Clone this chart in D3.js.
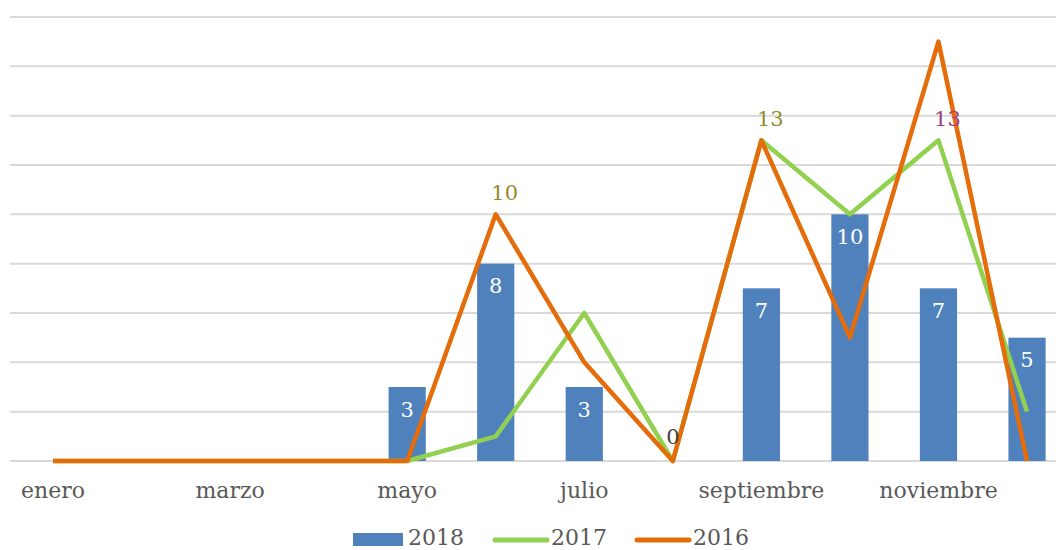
<!DOCTYPE html>
<html>
<head>
<meta charset="utf-8">
<script src="https://cdn.jsdelivr.net/npm/d3@7"></script>
<style>
  body { margin: 0; background: #fff; }
  svg { display: block; font-family: "DejaVu Serif", serif; }
</style>
</head>
<body>
<svg id="chart" width="1056" height="550"></svg>
<script>
// months on the x axis, only every other one gets a label
const months = ['enero', 'febrero', 'marzo', 'abril', 'mayo', 'junio',
  'julio', 'agosto', 'septiembre', 'octubre', 'noviembre', 'diciembre'];
const shownMonths = ['enero', 'marzo', 'mayo', 'julio', 'septiembre', 'noviembre'];

// series values (null = no bar / no label)
const values2018 = [null, null, null, null, 3, 8, 3, 0, 7, 10, 7, 5];
const values2017 = [0, 0, 0, 0, 0, 1, 6, 0, 13, 10, 13, 2];
const values2016 = [0, 0, 0, 0, 0, 10, 4, 0, 13, 5, 17, 0];

// the few line labels the original shows
const lineLabels = [
  {month: 'junio', series: '2016', color: '#948a2c'},
  {month: 'septiembre', series: '2017', color: '#948a2c'},
  {month: 'noviembre', series: '2017', color: '#9b3f7d'}
];
const gridTicks = [0, 2, 4, 6, 8, 10, 12, 14, 16, 18];

const colors = {'2018': '#4f81bd', '2017': '#92d050', '2016': '#e46c0a'};
const lineData = {'2017': values2017, '2016': values2016};

var svg = d3.select('#chart');

var x = d3.scaleBand().domain(months)
  .range([8.7, 1071.3])
  .paddingInner(0.58).paddingOuter(0.29);
var y = d3.scaleLinear().domain([0, 18]).range([461, 17]);
var cx = m => x(m) + x.bandwidth() / 2;

// gridlines
svg.append('g')
  .selectAll('line')
  .data(gridTicks)
  .enter().append('line')
  .attr('x1', 10).attr('x2', 1056)
  .attr('y1', d => y(d)).attr('y2', d => y(d))
  .style('stroke', '#d9d9d9')
  .style('stroke-width', 2);

// x axis
var xAxis = svg.append('g')
  .attr('transform', `translate(0, ${y(0)})`)
  .call(d3.axisBottom(x).tickValues(shownMonths).tickSize(0).tickPadding(21));
xAxis.select('.domain').remove();
xAxis.selectAll('text')
  .style('font-family', '"DejaVu Serif", serif')
  .style('font-size', '22px')
  .attr('fill', '#595959');

// bars 2018
var bars = months.map((m, i) => ({m: m, v: values2018[i]})).filter(d => d.v !== null);
svg.append('g')
  .selectAll('rect')
  .data(bars.filter(d => d.v > 0))
  .enter().append('rect')
  .attr('x', d => x(d.m))
  .attr('width', x.bandwidth())
  .attr('y', d => y(d.v))
  .attr('height', d => y(0) - y(d.v))
  .style('fill', colors['2018']);

// lines
var line = d3.line()
  .x((d, i) => cx(months[i]))
  .y(d => y(d));

['2017', '2016'].forEach(s => {
  svg.append('path')
    .attr('d', line(lineData[s]))
    .style('fill', 'none')
    .style('stroke', colors[s])
    .style('stroke-width', 4.5)
    .style('stroke-linejoin', 'round');
});

// bar labels
svg.append('g')
  .selectAll('text')
  .data(bars)
  .enter().append('text')
  .attr('x', d => cx(d.m))
  .attr('y', d => d.v > 0 ? y(d.v) + 22 : y(d.v) - 25)
  .attr('dy', '0.36em')
  .attr('text-anchor', 'middle')
  .style('font-size', '21px')
  .attr('fill', d => d.v > 0 ? '#fff' : '#404040')
  .text(d => d.v);

// line labels
svg.append('g')
  .selectAll('text')
  .data(lineLabels)
  .enter().append('text')
  .attr('x', d => cx(d.month) + 9)
  .attr('y', d => y(lineData[d.series][months.indexOf(d.month)]) - 22)
  .attr('dy', '0.36em')
  .attr('text-anchor', 'middle')
  .style('font-size', '21px')
  .attr('fill', d => d.color)
  .text(d => lineData[d.series][months.indexOf(d.month)]);

// legend
var legend = svg.append('g');
legend.append('rect')
  .attr('x', 353).attr('y', 533).attr('width', 50).attr('height', 13)
  .style('fill', colors['2018']);
legend.append('text').attr('x', 408).attr('y', 545).text('2018');
legend.append('line')
  .attr('x1', 495).attr('x2', 547).attr('y1', 540).attr('y2', 540)
  .style('stroke', colors['2017']).style('stroke-width', 5).style('stroke-linecap', 'round');
legend.append('text').attr('x', 551).attr('y', 545).text('2017');
legend.append('line')
  .attr('x1', 637).attr('x2', 689).attr('y1', 540).attr('y2', 540)
  .style('stroke', colors['2016']).style('stroke-width', 5).style('stroke-linecap', 'round');
legend.append('text').attr('x', 693).attr('y', 545).text('2016');
legend.selectAll('text')
  .style('font-size', '22px')
  .attr('fill', '#595959');
</script>
</body>
</html>
